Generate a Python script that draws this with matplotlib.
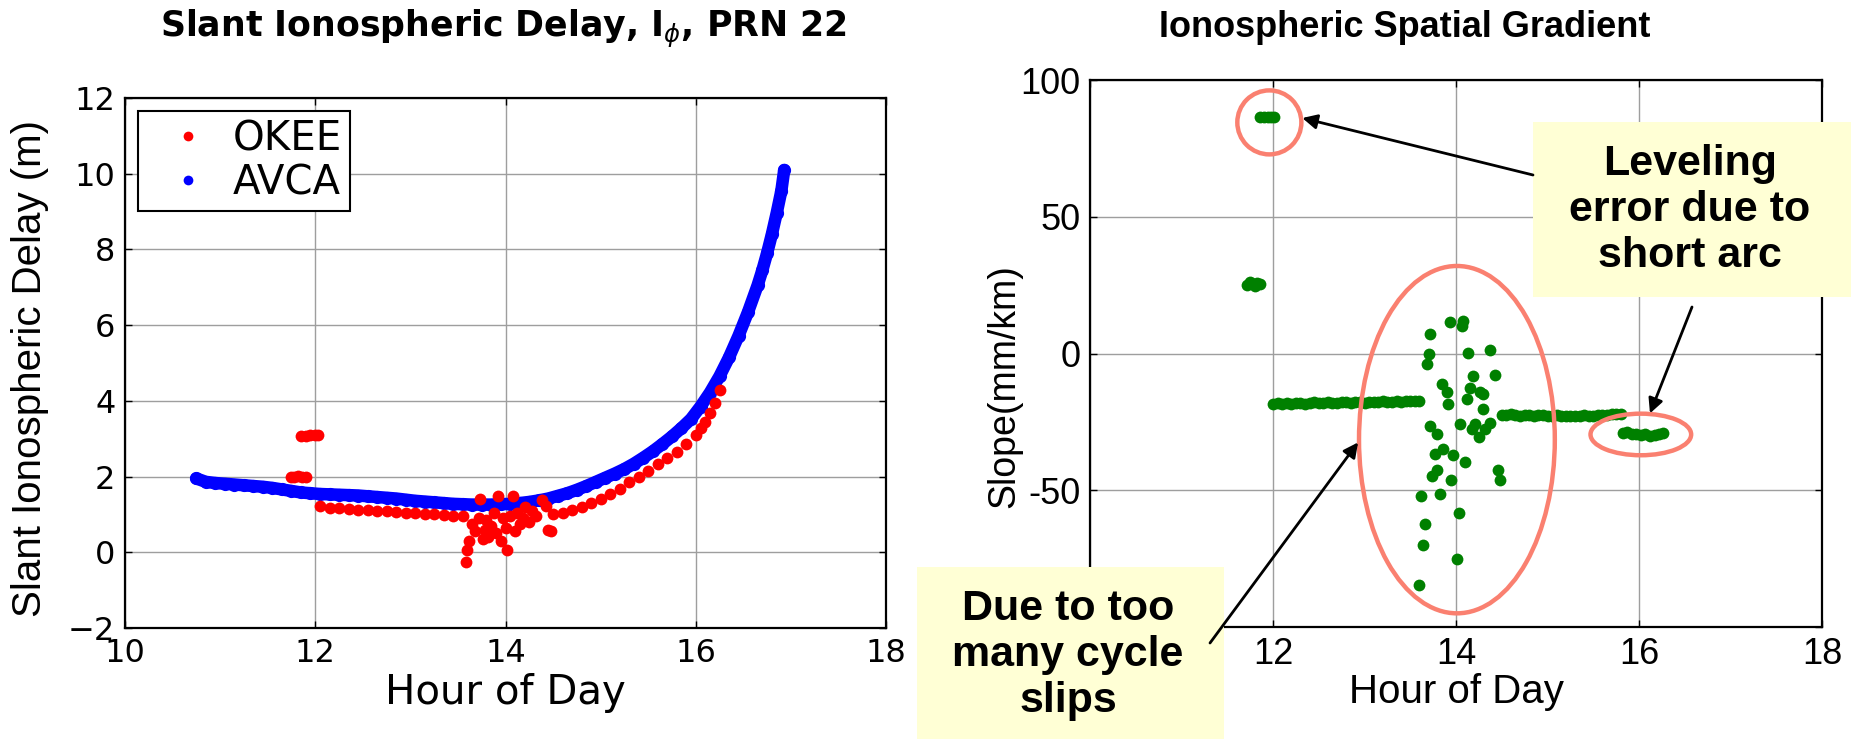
import matplotlib.pyplot as plt
from matplotlib.patches import Ellipse, Rectangle, ConnectionPatch
from matplotlib.lines import Line2D

plt.rcParams['font.family'] = ['Liberation Sans', 'DejaVu Sans']
plt.rcParams['mathtext.fontset'] = 'dejavusans'

# --- slant delay, AVCA (blue) ---
avca_hour = [10.75, 10.85, 10.95, 11.05, 11.15, 11.25, 11.35, 11.45, 11.55, 11.65,
             11.75, 11.85, 11.95, 12.05, 12.15, 12.25, 12.35, 12.45, 12.55, 12.65,
             12.75, 12.85, 12.95, 13.05, 13.15, 13.25, 13.35, 13.45, 13.55, 13.65,
             13.75, 13.85, 13.95, 14.05, 14.15, 14.25, 14.35, 14.45, 14.55, 14.65,
             14.75, 14.85, 14.95, 15.05, 15.15, 15.25, 15.35, 15.45, 15.55, 15.65,
             15.75, 15.85, 15.95, 16.05, 16.15, 16.25, 16.35, 16.45, 16.55, 16.65,
             16.70, 16.75, 16.80, 16.85, 16.90, 16.93]
avca_delay = [1.95, 1.86, 1.83, 1.81, 1.79, 1.77, 1.75, 1.73, 1.70, 1.66,
              1.62, 1.58, 1.56, 1.54, 1.53, 1.52, 1.51, 1.50, 1.48, 1.46,
              1.44, 1.42, 1.39, 1.36, 1.34, 1.32, 1.30, 1.28, 1.27, 1.26,
              1.26, 1.26, 1.27, 1.28, 1.30, 1.33, 1.37, 1.42, 1.49, 1.56,
              1.65, 1.75, 1.86, 1.97, 2.08, 2.20, 2.34, 2.50, 2.67, 2.86,
              3.06, 3.28, 3.52, 3.85, 4.22, 4.65, 5.15, 5.72, 6.35, 7.05,
              7.45, 7.90, 8.40, 8.95, 9.55, 10.10]

# --- slant delay, OKEE (red) ---
okee_hour = [11.74, 11.78, 11.82, 11.86, 11.90,
             11.85, 11.90, 11.95, 12.00, 12.03,
             12.05, 12.15, 12.25, 12.35, 12.45, 12.55, 12.65, 12.75, 12.85, 12.95,
             13.05, 13.15, 13.25, 13.35, 13.45, 13.55,
             13.58, 13.60, 13.62, 13.65, 13.68, 13.72, 13.73, 13.76, 13.78, 13.80,
             13.82, 13.85, 13.88, 13.90, 13.92, 13.95, 13.97, 14.00, 14.02, 14.05,
             14.08, 14.10, 14.12, 14.15, 14.18, 14.20, 14.25, 14.28, 14.32, 14.38,
             14.43, 14.45, 14.48,
             14.50, 14.60, 14.70, 14.80, 14.90, 15.00, 15.10, 15.20, 15.30, 15.40,
             15.50, 15.60, 15.70, 15.80, 15.90, 16.00, 16.05, 16.10, 16.15, 16.20,
             16.25]
okee_delay = [2.00, 2.00, 2.01, 2.00, 2.00,
              3.08, 3.08, 3.10, 3.10, 3.10,
              1.22, 1.18, 1.16, 1.14, 1.13, 1.12, 1.10, 1.08, 1.07, 1.05,
              1.03, 1.01, 1.00, 0.98, 0.97, 0.96,
              -0.25, 0.05, 0.30, 0.75, 0.55, 0.90, 1.40, 0.35, 0.60, 0.85,
              0.40, 0.70, 1.05, 0.50, 1.50, 0.30, 0.90, 0.65, 0.05, 0.95,
              1.50, 0.55, 1.05, 0.75, 0.90, 1.20, 0.80, 1.10, 0.95, 1.37,
              1.23, 0.60, 0.55,
              1.00, 1.05, 1.12, 1.20, 1.30, 1.42, 1.55, 1.68, 1.85, 2.00,
              2.16, 2.33, 2.50, 2.66, 2.86, 3.10, 3.27, 3.45, 3.67, 3.95,
              4.30]

# --- spatial gradient (green) ---
slip_hour_a = [11.72, 11.75, 11.78, 11.80, 11.83, 11.86]
slip_slope_a = [25.2, 26.0, 25.5, 24.5, 25.8, 25.3]
slip_hour_b = [11.86, 11.90, 11.94, 11.98, 12.01]
slip_slope_b = [86.6, 86.4, 86.6, 86.5, 86.4]

band1_hour = [12.00, 12.05, 12.10, 12.15, 12.20, 12.25, 12.30, 12.35, 12.40, 12.45,
              12.50, 12.55, 12.60, 12.65, 12.70, 12.75, 12.80, 12.85, 12.90, 12.95,
              13.00, 13.05, 13.10, 13.15, 13.20, 13.25, 13.30, 13.35, 13.40, 13.45,
              13.50, 13.55, 13.60]
band1_slope = [-18.4, -18.2, -18.5, -18.1, -18.3, -18.0, -18.2, -18.4, -18.0, -17.9,
               -18.2, -18.1, -17.8, -18.0, -18.2, -17.9, -17.8, -18.0, -17.7, -17.9,
               -18.1, -17.6, -17.8, -17.7, -17.5, -17.8, -17.6, -17.4, -17.6, -17.3,
               -17.2, -17.4, -17.2]

band2_hour = [14.50, 14.55, 14.60, 14.65, 14.70, 14.75, 14.80, 14.85, 14.90, 14.95,
              15.00, 15.05, 15.10, 15.15, 15.20, 15.25, 15.30, 15.35, 15.40, 15.45,
              15.50, 15.55, 15.60, 15.65, 15.70, 15.75, 15.80]
band2_slope = [-22.4, -22.6, -22.3, -22.5, -22.7, -22.4, -22.6, -22.8, -22.5, -22.6,
               -22.9, -22.7, -22.6, -22.8, -23.0, -22.7, -22.8, -22.9, -22.6, -22.8,
               -22.7, -22.5, -22.6, -22.4, -22.3, -22.2, -22.0]

band3_hour = [15.82, 15.87, 15.92, 15.97, 16.02, 16.07, 16.12, 16.17, 16.22, 16.26]
band3_slope = [-29.0, -28.8, -29.3, -29.6, -29.9, -29.4, -30.3, -29.8, -29.5, -29.2]

scatter_hour = [13.72, 13.93, 14.08, 14.07, 13.70, 13.68, 14.13, 14.37, 14.43, 14.19,
                13.85, 13.90, 14.15, 14.30, 14.26, 14.12, 13.91, 14.30, 14.04, 14.21,
                14.37, 13.72, 13.79, 14.17, 14.25, 14.32, 13.86, 13.77, 13.97, 14.10,
                13.79, 13.74, 13.95, 14.46, 14.48, 13.62, 13.83, 14.03, 13.66, 13.64,
                14.01, 13.60]
scatter_slope = [7.2, 11.4, 12.0, 9.9, -0.1, -3.8, 0.1, 1.1, -8.0, -8.4,
                 -11.1, -14.1, -12.5, -14.7, -14.1, -16.5, -18.4, -20.2, -25.7, -25.7,
                 -25.4, -26.6, -29.3, -27.5, -30.5, -27.5, -34.8, -36.9, -37.2, -39.7,
                 -42.7, -44.9, -46.4, -42.5, -46.4, -52.2, -51.2, -58.5, -62.4, -70.1,
                 -75.2, -84.7]

hour_ticks = [10, 12, 14, 16, 18]
delay_ticks = [-2, 0, 2, 4, 6, 8, 10, 12]
slope_ticks = [-100, -50, 0, 50, 100]

W, H = 1860, 739
fig = plt.figure(figsize=(W / 100, H / 100), dpi=100)
ax1 = fig.add_axes([125 / W, 1 - 628 / H, 761 / W, 530 / H])
ax2 = fig.add_axes([1090 / W, 1 - 627 / H, 732 / W, 547 / H])

WIDE = 'DejaVu Sans'


def style(ax, size, family='Liberation Sans'):
    ax.grid(True, color='0.62', lw=1.0)
    ax.set_axisbelow(True)
    ax.tick_params(direction='in', length=5, width=1, top=True, right=True,
                   labelsize=size, labelfontfamily=family, pad=7)
    for s in ax.spines.values():
        s.set_linewidth(1.6)


# left panel
ax1.plot(avca_hour, avca_delay, '-', color='blue', lw=9, solid_capstyle='round')
ax1.plot(avca_hour, avca_delay, 'o', color='blue', ms=9.5, mec='none')
ax1.plot(okee_hour, okee_delay, 'o', color='red', ms=8.5, mec='none')
ax1.set_xlim(10, 18)
ax1.set_ylim(-2, 12)
ax1.set_xticks(hour_ticks)
ax1.set_yticks(delay_ticks)
style(ax1, 23, WIDE)
ax1.set_xlabel('Hour of Day', fontsize=29, family=WIDE)
ax1.set_ylabel('Slant Ionospheric Delay (m)', fontsize=29)
ax1.xaxis.set_label_coords(0.5, -0.085)
ax1.yaxis.set_label_coords(-0.100, 0.49)

handles = [Line2D([], [], ls='none', marker='o', ms=7, color='red', mec='none'),
           Line2D([], [], ls='none', marker='o', ms=7, color='blue', mec='none')]
leg = ax1.legend(handles, ['OKEE', 'AVCA'], loc='upper left',
                 bbox_to_anchor=(138 / W, 1 - 111 / H), bbox_transform=fig.transFigure,
                 borderaxespad=0, fancybox=False, edgecolor='k', framealpha=1,
                 prop={'family': WIDE, 'size': 29}, borderpad=0.2, handlelength=2.1,
                 handletextpad=0.05, labelspacing=0.1)
leg.get_frame().set_linewidth(1.5)

# right panel
green = '#008000'
for hx, sy in [(slip_hour_a, slip_slope_a), (slip_hour_b, slip_slope_b),
               (band1_hour, band1_slope), (band2_hour, band2_slope),
               (band3_hour, band3_slope), (scatter_hour, scatter_slope)]:
    ax2.plot(hx, sy, 'o', color=green, ms=8.5, mec='none')
ax2.set_xlim(10, 18)
ax2.set_ylim(-100, 100)
ax2.set_xticks(hour_ticks)
ax2.set_yticks(slope_ticks)
# the lowest labels sit under the note box
ax2.set_xticklabels([''] + [str(t) for t in hour_ticks[1:]])
ax2.set_yticklabels([''] + [str(t) for t in slope_ticks[1:]])
style(ax2, 26)
ax2.set_xlabel('Hour of Day', fontsize=29)
ax2.set_ylabel('Slope(mm/km)', fontsize=27)
ax2.xaxis.set_label_coords(0.5, -0.084)
ax2.yaxis.set_label_coords(-0.093, 0.44)

ring = '#FA8070'
for c, w, h in [((11.96, 84.5), 0.70, 23.4),
                ((14.01, -31.5), 2.14, 127.0),
                ((16.02, -29.6), 1.10, 15.2)]:
    ax2.add_patch(Ellipse(c, w, h, fill=False, ec=ring, lw=3.2, clip_on=False, zorder=4))

# titles
fig.text(503 / W, 1 - 37 / H, r'Slant Ionospheric Delay, I$_{\phi}$, PRN 22',
         ha='center', va='baseline', fontsize=25, fontweight='bold', family=WIDE)
fig.text(1405 / W, 1 - 37 / H, 'Ionospheric Spatial Gradient',
         ha='center', va='baseline', fontsize=26, fontweight='bold')

# note boxes
note_bg = '#FFFFD5'
fig.add_artist(Rectangle((1533 / W, 1 - 297 / H), 318 / W, 175 / H,
                         transform=fig.transFigure, fc=note_bg, ec='none', zorder=5))
fig.text(1690 / W, 1 - 210 / H, 'Leveling\nerror due to\nshort arc', ha='center',
         va='center', fontsize=31, fontweight='bold', linespacing=1.2, zorder=6)
fig.add_artist(Rectangle((917 / W, 0), 307 / W, (739 - 567) / H,
                         transform=fig.transFigure, fc=note_bg, ec='none', zorder=5))
fig.text(1068 / W, 1 - 655 / H, 'Due to too\nmany cycle\nslips', ha='center',
         va='center', fontsize=31, fontweight='bold', linespacing=1.2, zorder=6)

# arrows from notes to the circled points
for tail, tip in [((1533, H - 175), (12.32, 86.1)),
                  ((1692, H - 307), (16.12, -21.9)),
                  ((1210, H - 643), (12.93, -32.5))]:
    con = ConnectionPatch(xyA=tail, coordsA='figure pixels', xyB=tip, coordsB='data',
                          axesB=ax2, arrowstyle='-|>', mutation_scale=22, lw=2,
                          color='k', zorder=7)
    fig.add_artist(con)

fig.savefig('out.png', dpi=100)
